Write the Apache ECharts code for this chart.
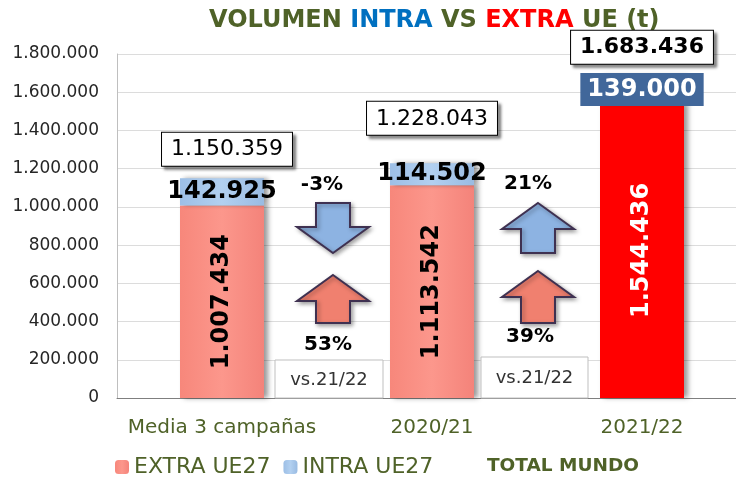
<!DOCTYPE html>
<html>
<head>
<meta charset="utf-8">
<script src="https://cdn.jsdelivr.net/npm/echarts@6/dist/echarts.min.js"></script>
<style>
  html, body { margin: 0; padding: 0; background: #fff; }
  #main { width: 736px; height: 477px; }
</style>
</head>
<body>
<div id="main"></div>
<script>
// datos
var categorias = ['Media 3 campañas', '2020/21', '2021/22'];
var extraUE = [1007434, 1113542, 1544436];
var intraUE = [142925, 114502, 139000];
var totalMundo = [1150359, 1228043, 1683436];
var yTicks = [0, 200000, 400000, 600000, 800000, 1000000, 1200000, 1400000, 1600000, 1800000];

var FONT = 'DejaVu Sans';
var VERDE = '#4f6228';

function miles(v) {
  return String(v).replace(/\B(?=(\d{3})+(?!\d))/g, '.');
}

var salmon = new echarts.graphic.LinearGradient(0, 0, 1, 0, [
  { offset: 0, color: '#f7877b' },
  { offset: 0.5, color: '#fc978c' },
  { offset: 1, color: '#f4837a' }
]);
var azul = new echarts.graphic.LinearGradient(0, 0, 1, 0, [
  { offset: 0, color: '#9dbfe6' },
  { offset: 0.5, color: '#b2d0f0' },
  { offset: 1, color: '#99bbe2' }
]);

var myChart = echarts.init(document.getElementById('main'));

var extraData = extraUE.map(function (v, i) {
  if (i === 2) {
    return { value: v, itemStyle: { color: '#ff0000' }, label: { color: '#fff' } };
  }
  return v;
});
var intraData = intraUE.map(function (v, i) {
  if (i === 2) {
    return {
      value: v,
      itemStyle: { color: '#41679a' },
      label: { color: '#fff', backgroundColor: '#41679a', padding: [5, 7, 4, 7] }
    };
  }
  return v;
});
var totalData = totalMundo.map(function (v, i) {
  return {
    value: v,
    label: {
      distance: i === 1 ? 28 : 12,
      offset: i === 0 ? [5, 0] : [0, 0],
      fontWeight: i === 2 ? 'bold' : 'normal'
    }
  };
});

// flechas
function flecha(cx, top, bottom, up, color) {
  var hw = 36, sw = 17, head = 26;
  var pts;
  if (up) {
    pts = [[cx, top], [cx + hw, top + head], [cx + sw, top + head], [cx + sw, bottom],
           [cx - sw, bottom], [cx - sw, top + head], [cx - hw, top + head]];
  } else {
    pts = [[cx, bottom], [cx + hw, bottom - head], [cx + sw, bottom - head], [cx + sw, top],
           [cx - sw, top], [cx - sw, bottom - head], [cx - hw, bottom - head]];
  }
  return {
    type: 'polygon',
    z: 100,
    shape: { points: pts },
    style: {
      fill: color, stroke: '#3f3151', lineWidth: 2,
      shadowColor: 'rgba(0,0,0,0.35)', shadowBlur: 4, shadowOffsetX: 2, shadowOffsetY: 2
    }
  };
}
function pct(txt, x, y) {
  return {
    type: 'text', z: 100, x: x, y: y,
    style: { text: txt, font: 'bold 20px "DejaVu Sans"', fill: '#000', align: 'center', verticalAlign: 'middle' }
  };
}
function caja(x, y, w, h) {
  return [
    {
      type: 'rect', z: 90, shape: { x: x, y: y, width: w, height: h },
      style: { fill: '#fff', stroke: '#bfbfbf', lineWidth: 1 }
    },
    {
      type: 'text', z: 91, x: x + w / 2, y: y + h / 2 + 1,
      style: { text: 'vs.21/22', font: '18px "DejaVu Sans"', fill: '#333', align: 'center', verticalAlign: 'middle' }
    }
  ];
}

var option = {
  animation: false,
  textStyle: { fontFamily: FONT },
  title: {
    left: 204,
    top: 4,
    text: '{g|VOLUMEN }{b|INTRA}{g| VS }{r|EXTRA}{g| UE (t)}',
    textStyle: {
      rich: {
        g: { color: VERDE, fontSize: 24, fontWeight: 'bold', fontFamily: FONT },
        b: { color: '#0070c0', fontSize: 24, fontWeight: 'bold', fontFamily: FONT },
        r: { color: '#ff0000', fontSize: 24, fontWeight: 'bold', fontFamily: FONT }
      }
    }
  },
  legend: [
    {
      left: 110, top: 451,
      itemWidth: 14, itemHeight: 14, itemGap: 13,
      data: ['EXTRA UE27', 'INTRA UE27'],
      textStyle: { color: VERDE, fontSize: 22, fontFamily: FONT }
    },
    {
      left: 463, top: 452,
      itemWidth: 14, itemHeight: 14,
      data: [{ name: 'TOTAL MUNDO', icon: 'none' }],
      textStyle: { color: VERDE, fontSize: 18.5, fontWeight: 'bold', fontFamily: FONT }
    }
  ],
  grid: { left: 117, top: 54, width: 630, height: 344, outerBoundsMode: 'none', containLabel: false },
  xAxis: {
    type: 'category',
    data: categorias,
    axisTick: { show: false },
    axisLine: { lineStyle: { color: '#7f7f7f' } },
    axisLabel: { color: VERDE, fontSize: 20, margin: 20, fontFamily: FONT, interval: 0 }
  },
  yAxis: {
    type: 'value',
    min: yTicks[0],
    max: yTicks[yTicks.length - 1],
    interval: yTicks[1] - yTicks[0],
    axisLine: { show: true, lineStyle: { color: '#bfbfbf' } },
    axisTick: { show: false },
    splitLine: { lineStyle: { color: '#dcdcdc' } },
    axisLabel: { color: '#262626', fontSize: 17, margin: 18, fontFamily: FONT, formatter: miles }
  },
  series: [
    {
      name: 'EXTRA UE27',
      type: 'bar',
      stack: 'total',
      barWidth: 84,
      data: extraData,
      itemStyle: {
        color: salmon,
        shadowColor: 'rgba(0,0,0,0.4)', shadowBlur: 5, shadowOffsetX: 4
      },
      label: {
        show: true, position: 'inside', rotate: 90,
        color: '#000', fontSize: 24, fontWeight: 'bold', fontFamily: FONT,
        formatter: function (p) { return miles(p.value); }
      }
    },
    {
      name: 'INTRA UE27',
      type: 'bar',
      stack: 'total',
      barWidth: 84,
      data: intraData,
      itemStyle: {
        color: azul,
        shadowColor: 'rgba(0,0,0,0.4)', shadowBlur: 5, shadowOffsetX: 4
      },
      label: {
        show: true, position: 'inside',
        color: '#000', fontSize: 24, fontWeight: 'bold', fontFamily: FONT,
        formatter: function (p) { return miles(p.value); }
      }
    },
    {
      name: 'TOTAL MUNDO',
      type: 'line',
      data: totalData,
      symbol: 'circle',
      symbolSize: 1,
      showSymbol: true,
      itemStyle: { color: 'rgba(0,0,0,0)' },
      lineStyle: { width: 0, opacity: 0 },
      z: 10,
      label: {
        show: true, position: 'top',
        color: '#000', fontSize: 22, fontFamily: FONT,
        backgroundColor: '#fff', borderColor: '#000', borderWidth: 1,
        padding: [6, 9, 5, 9],
        shadowColor: 'rgba(0,0,0,0.45)', shadowBlur: 3, shadowOffsetX: 3, shadowOffsetY: 3,
        formatter: function (p) { return miles(p.value); }
      }
    }
  ],
  graphic: [
    flecha(333, 203, 253, false, '#8db3e2'),
    flecha(333, 275, 323, true, '#f0806f'),
    flecha(538, 203, 253, true, '#8db3e2'),
    flecha(538, 271, 323, true, '#f0806f'),
    pct('-3%', 322, 185),
    pct('53%', 328, 345),
    pct('21%', 528, 184),
    pct('39%', 530, 337)
  ].concat(caja(275, 360, 108, 38), caja(481, 357, 107, 41))
};

myChart.setOption(option);
</script>
</body>
</html>
